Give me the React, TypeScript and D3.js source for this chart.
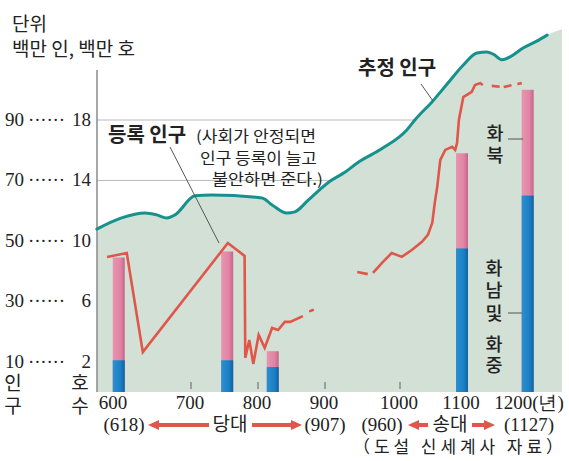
import React from 'react';
import * as d3 from 'd3';

const W = 569;
const H = 461;

// ---- axis data ----
const xTickYears = [600, 700, 800, 900, 1000, 1100, 1200];
const xTickLabels = ['600', '700', '800', '900', '1000', '1100', '1200(년)'];
const yPopTicks = [90, 70, 50, 30, 10];
const yHouseTicks = [18, 14, 10, 6, 2];

// ---- estimated population (million people) ----
const estYears = [571, 605, 637, 653, 667, 678, 706, 731, 806, 821, 843, 855, 875, 907, 927, 943, 977, 1011, 1024, 1053, 1076, 1102, 1123, 1138, 1148, 1162, 1174, 1194, 1215, 1231];
const estPop = [53.9, 57.6, 59.2, 58.6, 57.6, 58.6, 64.9, 65.2, 64.2, 61.9, 59.2, 59.6, 63.5, 69.8, 72.8, 75.8, 80.7, 86.7, 90.0, 96.3, 101.9, 108.2, 112.2, 112.5, 111.8, 109.9, 110.9, 113.8, 116.1, 118.1];
const areaTailYear = [1254];
const areaTailPop = [120.0];

// ---- registered population (million people) ----
const regTangYears = [585, 612, 634, 755, 780, 781, 787, 793, 801, 810, 821, 830, 840, 848, 867];
const regTangPop = [44.7, 46.0, 13.2, 49.3, 45.0, 11.3, 17.2, 9.3, 18.9, 14.6, 21.2, 20.5, 23.2, 23.2, 25.1];
const regTangTailYears = [878, 882];
const regTangTailPop = [26.8, 27.1];

const regSongHeadYears = [943, 957];
const regSongHeadPop = [39.7, 39.0];
const regSongYears = [964, 977, 989, 1003, 1019, 1035, 1045, 1052, 1056, 1060, 1065, 1073, 1084, 1089, 1092, 1095, 1102, 1115, 1120, 1128, 1132];
const regSongPop = [39.4, 43.0, 46.0, 44.7, 47.0, 49.6, 52.0, 55.9, 62.5, 67.8, 76.8, 80.1, 81.1, 80.1, 82.4, 90.0, 97.6, 99.3, 101.6, 102.2, 101.6];
const regSongTailYears = [1132, 1146, 1163, 1192];
const regSongTailPop = [101.6, 101.3, 100.9, 102.2];

// ---- households (million households) ----
const barYears = [601, 754, 822, 1100, 1201];
const barTotal = [8.9, 9.3, 2.7, 15.8, 20.0];
const barSouth = [2.1, 2.1, 1.65, 9.5, 13.0];

const SERIF = '"Liberation Serif", "DejaVu Serif", serif';
const SANS = '"Noto Sans CJK KR", "Noto Sans", sans-serif';

type P = [number, number];
const zip = (a: number[], b: number[]): P[] => a.map((v, i) => [v, b[i]] as P);

export default function App() {
  const plotLeft = 97;
  const plotRight = 562;
  const plotTop = 70;
  const plotBottom = 392;

  const x = d3.scaleLinear().domain(xTickYears).range([118, 191, 258, 325, 400, 462, 527]);
  const yPop = d3.scaleLinear().domain([0, 90]).range([plotBottom, 120]);
  const yHouse = d3.scaleLinear().domain([0, 18]).range([plotBottom, 120]);

  const estPts = zip(estYears, estPop);
  const areaPts = [...estPts, ...zip(areaTailYear, areaTailPop)];

  const area = d3
    .area<P>()
    .x((d) => x(d[0]))
    .y0(plotBottom)
    .y1((d) => yPop(d[1]))
    .curve(d3.curveMonotoneX);
  const smooth = d3
    .line<P>()
    .x((d) => x(d[0]))
    .y((d) => yPop(d[1]))
    .curve(d3.curveMonotoneX);
  const sharp = d3
    .line<P>()
    .x((d) => x(d[0]))
    .y((d) => yPop(d[1]));

  const barW = 12;
  const red = '#e0564a';
  const teal = '#16928e';

  const arrow = (x1: number, x2: number, y: number, key: string) => {
    const dir = x2 > x1 ? 1 : -1;
    const hl = 11;
    return (
      <g key={key}>
        <line x1={x1} y1={y} x2={x2 - dir * hl} y2={y} stroke={red} strokeWidth={4} />
        <polygon
          points={`${x2},${y} ${x2 - dir * hl},${y - 5} ${x2 - dir * hl},${y + 5}`}
          fill={red}
        />
      </g>
    );
  };

  return (
    <svg
      width={W}
      height={H}
      viewBox={`0 0 ${W} ${H}`}
      style={{ position: 'absolute', left: 0, top: 0, background: '#fff' }}
    >
      <defs>
        <linearGradient id="pinkG" x1="0" x2="1" y1="0" y2="0">
          <stop offset="0" stopColor="#e895b0" />
          <stop offset="0.65" stopColor="#e084a3" />
          <stop offset="1" stopColor="#c8628a" />
        </linearGradient>
        <linearGradient id="blueG" x1="0" x2="1" y1="0" y2="0">
          <stop offset="0" stopColor="#2b90d2" />
          <stop offset="0.65" stopColor="#1b7fc4" />
          <stop offset="1" stopColor="#0f62a4" />
        </linearGradient>
        <clipPath id="plotClip">
          <rect x={plotLeft} y={0} width={plotRight - plotLeft} height={plotBottom} />
        </clipPath>
      </defs>

      {/* unit title */}
      <text x={12} y={31} fontFamily={SANS} fontSize={19} fill="#222">단위</text>
      <text x={12} y={56} fontFamily={SANS} fontSize={19} fill="#222">백만 인, 백만 호</text>

      {/* grid lines */}
      {yPopTicks.map((t) => (
        <line key={'g' + t} x1={plotLeft} x2={plotRight} y1={yPop(t)} y2={yPop(t)} stroke="#b9b9b9" strokeWidth={1} />
      ))}

      {/* estimated population area */}
      <g clipPath="url(#plotClip)">
        <path d={area(areaPts) || ''} fill="#d3e0d5" />
      </g>

      {/* left axis line */}
      <line x1={plotLeft} x2={plotLeft} y1={plotTop} y2={plotBottom} stroke="#8a8a8a" strokeWidth={1.5} />

      {/* y labels */}
      {yPopTicks.map((t, i) => (
        <g key={'yl' + t} fontFamily={SERIF} fontSize={19} fill="#222">
          <text x={5} y={yPop(t) + 6}>{t}</text>
          <text x={28} y={yPop(t) + 6} textLength={37} lengthAdjust="spacing">······</text>
          <text x={91} y={yHouse(yHouseTicks[i]) + 6} textAnchor="end">{yHouseTicks[i]}</text>
        </g>
      ))}
      <g fontFamily={SANS} fontSize={19} fill="#222" textAnchor="middle">
        <text x={13} y={390}>인</text>
        <text x={13} y={413}>구</text>
        <text x={80} y={390}>호</text>
        <text x={80} y={413}>수</text>
      </g>

      {/* x ticks */}
      {xTickYears.map((t) => (
        <line key={'xt' + t} x1={x(t)} x2={x(t)} y1={382} y2={389} stroke="#8a8a8a" strokeWidth={1.5} />
      ))}

      {/* estimated population line */}
      <path d={smooth(estPts) || ''} fill="none" stroke={teal} strokeWidth={3} strokeLinecap="round" />

      {/* household bars */}
      {barYears.map((yr, i) => {
        const cx = x(yr);
        return (
          <g key={'b' + yr}>
            <rect x={cx - barW / 2} y={yHouse(barTotal[i])} width={barW} height={yHouse(0) - yHouse(barTotal[i])} fill="url(#pinkG)" />
            <rect x={cx - barW / 2} y={yHouse(barSouth[i])} width={barW} height={yHouse(0) - yHouse(barSouth[i])} fill="url(#blueG)" />
          </g>
        );
      })}

      {/* registered population lines */}
      <g fill="none" stroke={red} strokeWidth={2.6} strokeLinejoin="miter">
        <path d={sharp(zip(regTangYears, regTangPop)) || ''} />
        <path d={sharp(zip(regTangTailYears, regTangTailPop)) || ''} strokeLinecap="round" />
        <path d={sharp(zip(regSongHeadYears, regSongHeadPop)) || ''} />
        <path d={sharp(zip(regSongYears, regSongPop)) || ''} />
        <path d={sharp(zip(regSongTailYears, regSongTailPop)) || ''} strokeDasharray="0 9 8 4 8 6 8 30" />
      </g>

      {/* annotations */}
      <text x={358} y={75} fontFamily={SANS} fontSize={20} fontWeight={700} fill="#222">추정 인구</text>
      <line x1={421} y1={84} x2={433} y2={101} stroke="#555" strokeWidth={1} />

      <text x={108} y={142} fontFamily={SANS} fontSize={20} fontWeight={700} fill="#222">등록 인구</text>
      <g fontFamily={SANS} fontSize={15.5} fill="#222">
        <text x={196} y={142} textLength={120} lengthAdjust="spacingAndGlyphs">(사회가 안정되면</text>
        <text x={200} y={164} textLength={117} lengthAdjust="spacingAndGlyphs">인구 등록이 늘고</text>
        <text x={212} y={185} textLength={111} lengthAdjust="spacingAndGlyphs">불안하면 준다.)</text>
      </g>
      <line x1={170} y1={147} x2={219} y2={243} stroke="#555" strokeWidth={1} />

      <g fontFamily={SANS} fontSize={18.5} fontWeight={500} fill="#222" textAnchor="middle">
        <text x={495} y={140}>화</text>
        <text x={495} y={162}>북</text>
        <text x={494} y={275}>화</text>
        <text x={494} y={297}>남</text>
        <text x={494} y={320}>및</text>
        <text x={494} y={351}>화</text>
        <text x={494} y={372}>중</text>
      </g>
      <line x1={508} y1={139} x2={523} y2={139} stroke="#555" strokeWidth={1} />
      <line x1={508} y1={313} x2={522} y2={313} stroke="#555" strokeWidth={1} />

      {/* x labels */}
      {xTickYears.map((t, i) => (
        <text key={'xl' + t} x={x(t) + (i === 0 ? -5 : i === 6 ? 2 : -1)} y={409} fontFamily={SERIF} fontSize={19} fill="#222" textAnchor="middle">
          {xTickLabels[i]}
        </text>
      ))}

      {/* dynasty row */}
      <g fontFamily={SERIF} fontSize={19} fill="#222" textAnchor="middle">
        <text x={124} y={431}>(618)</text>
        <text x={325} y={431}>(907)</text>
        <text x={382} y={431}>(960)</text>
        <text x={529} y={431}>(1127)</text>
      </g>
      <g fontFamily={SANS} fontSize={19} fill="#222" textAnchor="middle">
        <text x={230} y={431}>당대</text>
        <text x={450} y={431}>송대</text>
      </g>
      {arrow(209, 148, 425, 'a1')}
      {arrow(252, 302, 425, 'a2')}
      {arrow(428, 408, 425, 'a3')}
      {arrow(472, 495, 425, 'a4')}

      <text x={353} y={453} fontFamily={SANS} fontSize={17} fill="#222" textLength={210} lengthAdjust="spacing">（도설 신세계사 자료）</text>
    </svg>
  );
}
